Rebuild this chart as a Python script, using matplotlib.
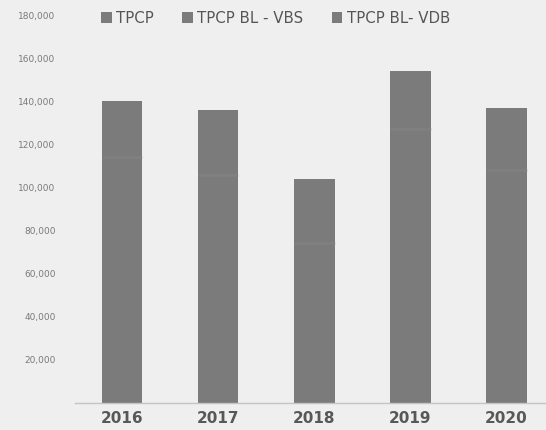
import numpy as np
import matplotlib.pyplot as plt

# values (thousands are kept as plain numbers)
years = ["2016", "2017", "2018", "2019", "2020"]
tpcp = [114000, 106000, 74000, 127000, 108000]
tpcp_vbs = [15000, 17000, 17000, 16000, 17000]
tpcp_vdb = [11000, 13000, 13000, 11000, 12000]
series_names = ["TPCP", "TPCP BL - VBS", "TPCP BL- VDB"]
yticks = [20000, 40000, 60000, 80000, 100000, 120000, 140000, 160000, 180000]

bg = "#efefef"
bar_col = "#7b7b7b"

fig = plt.figure(figsize=(5.46, 4.30), dpi=100, facecolor=bg)
ax = fig.add_axes([75 / 546, 1 - 403 / 430, 1 - 75 / 546, (403 - 15) / 430])
ax.set_facecolor(bg)

x = np.arange(len(years))
width = 0.42
bottom = np.zeros(len(years))
bars = []
for vals, name in zip([tpcp, tpcp_vbs, tpcp_vdb], series_names):
    b = ax.bar(x, vals, width, bottom=bottom, color=bar_col, linewidth=0, label=name)
    bars.append(b)
    bottom = bottom + np.array(vals)

# faint seam between the bottom segment and the rest
ax.hlines(tpcp, x - width / 2, x + width / 2, color="#8a8a8a", lw=2, alpha=0.35)

ax.set_xlim(-0.49, 4.41)
ax.set_ylim(0, 180000)
ax.set_yticks(yticks)
ax.set_yticklabels([f"{v:,}" for v in yticks], fontsize=6.5, color="#7a7a7a")
ax.tick_params(axis="y", length=0, pad=14)
ax.set_xticks(x)
ax.set_xticklabels(years, fontsize=11, fontweight="semibold", color="#585858")
ax.tick_params(axis="x", length=0, pad=6)

for side in ["top", "right", "left"]:
    ax.spines[side].set_visible(False)
ax.spines["bottom"].set_color("#c4c4c4")
ax.spines["bottom"].set_linewidth(1)

fig.legend(
    handles=bars,
    labels=series_names,
    loc="center",
    bbox_to_anchor=(0.505, 0.958),
    ncol=3,
    frameon=False,
    fontsize=10.8,
    labelcolor="#555555",
    handlelength=0.7,
    handleheight=0.7,
    handletextpad=0.3,
    columnspacing=1.9,
)

fig.savefig("out.png", dpi=100, facecolor=bg)
